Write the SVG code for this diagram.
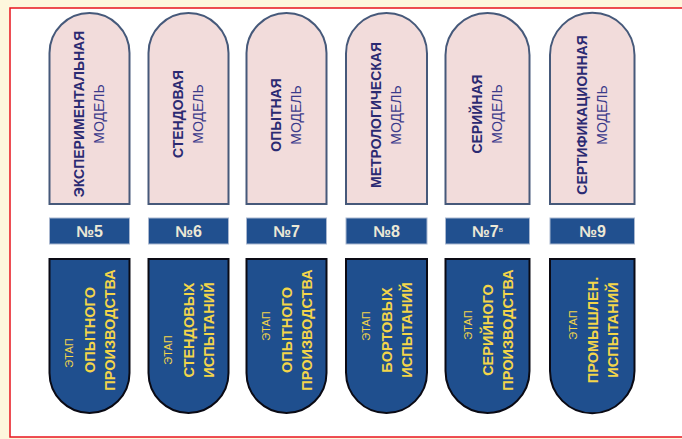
<svg xmlns="http://www.w3.org/2000/svg" width="682" height="439" viewBox="0 0 682 439">
  <style>
    .model { fill: #f2dcdb; stroke: #46597a; stroke-width: 2; }
    .num { fill: #21508f; stroke: #a9b7cf; stroke-width: 1; }
    .stage { fill: #1f4f8e; stroke: #0a0a14; stroke-width: 2; }
    text { font-family: "Liberation Sans", Arial, sans-serif; text-anchor: middle; }
    .mt { font-size: 14px; font-weight: bold; fill: #2b2a72; }
    .ms { font-size: 14px; fill: #3b3a8a; }
    .nt { font-size: 16px; font-weight: bold; fill: #ece8d6; }
    .sup { font-size: 8px; font-weight: normal; fill: #ece8d6; }
    .st { font-size: 11px; fill: #f3d54a; }
    .sb { font-size: 14.5px; font-weight: bold; fill: #f3d54a; }
  </style>

  <!-- page background and frame -->
  <rect x="0" y="0" width="682" height="439" fill="#fdf7dd"/>
  <rect x="10" y="8" width="690" height="429" fill="#ffffff" stroke="#e8141e" stroke-width="1.5"/>

  <!-- column 5 -->
  <g id="model-5">
    <path class="model" d="M49.5 204 V53 A40 40 0 0 1 129.5 53 V204 Z"/>
    <g transform="translate(89.5,114) rotate(-90)">
      <text class="mt" x="0" y="-5.5">ЭКСПЕРИМЕНТАЛЬНАЯ</text>
      <text class="ms" x="0" y="14.5">МОДЕЛЬ</text>
    </g>
  </g>
  <g id="num-5">
    <rect class="num" x="49.5" y="218" width="80" height="26"/>
    <text class="nt" x="89.5" y="236.5">№5</text>
  </g>
  <g id="stage-5">
    <path class="stage" d="M49.5 259 H129.5 V373 A40 40 0 0 1 49.5 373 Z"/>
    <g transform="translate(89.5,330) rotate(-90)">
      <text class="st" x="-23" y="-17">ЭТАП</text>
      <text class="sb" x="0" y="5">ОПЫТНОГО</text>
      <text class="sb" x="0" y="25">ПРОИЗВОДСТВА</text>
    </g>
  </g>

  <!-- column 6 -->
  <g id="model-6">
    <path class="model" d="M148.5 204 V53 A40 40 0 0 1 228.5 53 V204 Z"/>
    <g transform="translate(188.5,114) rotate(-90)">
      <text class="mt" x="0" y="-5.5">СТЕНДОВАЯ</text>
      <text class="ms" x="0" y="14.5">МОДЕЛЬ</text>
    </g>
  </g>
  <g id="num-6">
    <rect class="num" x="148.5" y="218" width="80" height="26"/>
    <text class="nt" x="188.5" y="236.5">№6</text>
  </g>
  <g id="stage-6">
    <path class="stage" d="M148.5 259 H228.5 V373 A40 40 0 0 1 148.5 373 Z"/>
    <g transform="translate(188.5,330) rotate(-90)">
      <text class="st" x="-20" y="-17">ЭТАП</text>
      <text class="sb" x="0" y="5">СТЕНДОВЫХ</text>
      <text class="sb" x="0" y="25">ИСПЫТАНИЙ</text>
    </g>
  </g>

  <!-- column 7 -->
  <g id="model-7">
    <path class="model" d="M246.5 204 V53 A40 40 0 0 1 326.5 53 V204 Z"/>
    <g transform="translate(286.5,115) rotate(-90)">
      <text class="mt" x="0" y="-5.5">ОПЫТНАЯ</text>
      <text class="ms" x="0" y="14.5">МОДЕЛЬ</text>
    </g>
  </g>
  <g id="num-7">
    <rect class="num" x="246.5" y="218" width="80" height="26"/>
    <text class="nt" x="286.5" y="236.5">№7</text>
  </g>
  <g id="stage-7">
    <path class="stage" d="M246.5 259 H326.5 V373 A40 40 0 0 1 246.5 373 Z"/>
    <g transform="translate(286.5,330) rotate(-90)">
      <text class="st" x="4" y="-17">ЭТАП</text>
      <text class="sb" x="0" y="5">ОПЫТНОГО</text>
      <text class="sb" x="0" y="25">ПРОИЗВОДСТВА</text>
    </g>
  </g>

  <!-- column 8 -->
  <g id="model-8">
    <path class="model" d="M346 204 V53.5 A40.5 40.5 0 0 1 427 53.5 V204 Z"/>
    <g transform="translate(386.5,115) rotate(-90)">
      <text class="mt" x="0" y="-5.5">МЕТРОЛОГИЧЕСКАЯ</text>
      <text class="ms" x="0" y="14.5">МОДЕЛЬ</text>
    </g>
  </g>
  <g id="num-8">
    <rect class="num" x="346" y="218" width="81" height="26"/>
    <text class="nt" x="386.5" y="236.5">№8</text>
  </g>
  <g id="stage-8">
    <path class="stage" d="M346 259 H427 V372.5 A40.5 40.5 0 0 1 346 372.5 Z"/>
    <g transform="translate(386.5,330) rotate(-90)">
      <text class="st" x="4" y="-17">ЭТАП</text>
      <text class="sb" x="0" y="5">БОРТОВЫХ</text>
      <text class="sb" x="0" y="25">ИСПЫТАНИЙ</text>
    </g>
  </g>

  <!-- column 7в -->
  <g id="model-7v">
    <path class="model" d="M445.5 204 V55 A42 42 0 0 1 529.5 55 V204 Z"/>
    <g transform="translate(487.5,114) rotate(-90)">
      <text class="mt" x="0" y="-5.5">СЕРИЙНАЯ</text>
      <text class="ms" x="0" y="14.5">МОДЕЛЬ</text>
    </g>
  </g>
  <g id="num-7v">
    <rect class="num" x="445.5" y="218" width="84" height="26"/>
    <text class="nt" x="487.5" y="236.5">№7<tspan class="sup" dy="-5">в</tspan></text>
  </g>
  <g id="stage-7v">
    <path class="stage" d="M445.5 259 H529.5 V371 A42 42 0 0 1 445.5 371 Z"/>
    <g transform="translate(487.5,330) rotate(-90)">
      <text class="st" x="5" y="-16">ЭТАП</text>
      <text class="sb" x="0" y="5">СЕРИЙНОГО</text>
      <text class="sb" x="0" y="25">ПРОИЗВОДСТВА</text>
    </g>
  </g>

  <!-- column 9 -->
  <g id="model-9">
    <path class="model" d="M550 204 V55 A42.25 42.25 0 0 1 634.5 55 V204 Z"/>
    <g transform="translate(592.5,115) rotate(-90)">
      <text class="mt" x="0" y="-5.5">СЕРТИФИКАЦИОННАЯ</text>
      <text class="ms" x="0" y="14.5">МОДЕЛЬ</text>
    </g>
  </g>
  <g id="num-9">
    <rect class="num" x="550" y="218" width="84.5" height="26"/>
    <text class="nt" x="592.5" y="236.5">№9</text>
  </g>
  <g id="stage-9">
    <path class="stage" d="M550 259 H634.5 V371 A42.25 42.25 0 0 1 550 371 Z"/>
    <g transform="translate(592.5,330) rotate(-90)">
      <text class="st" x="5" y="-16">ЭТАП</text>
      <text class="sb" x="0" y="5">ПРОМЫШЛЕН.</text>
      <text class="sb" x="0" y="25">ИСПЫТАНИЙ</text>
    </g>
  </g>
</svg>
